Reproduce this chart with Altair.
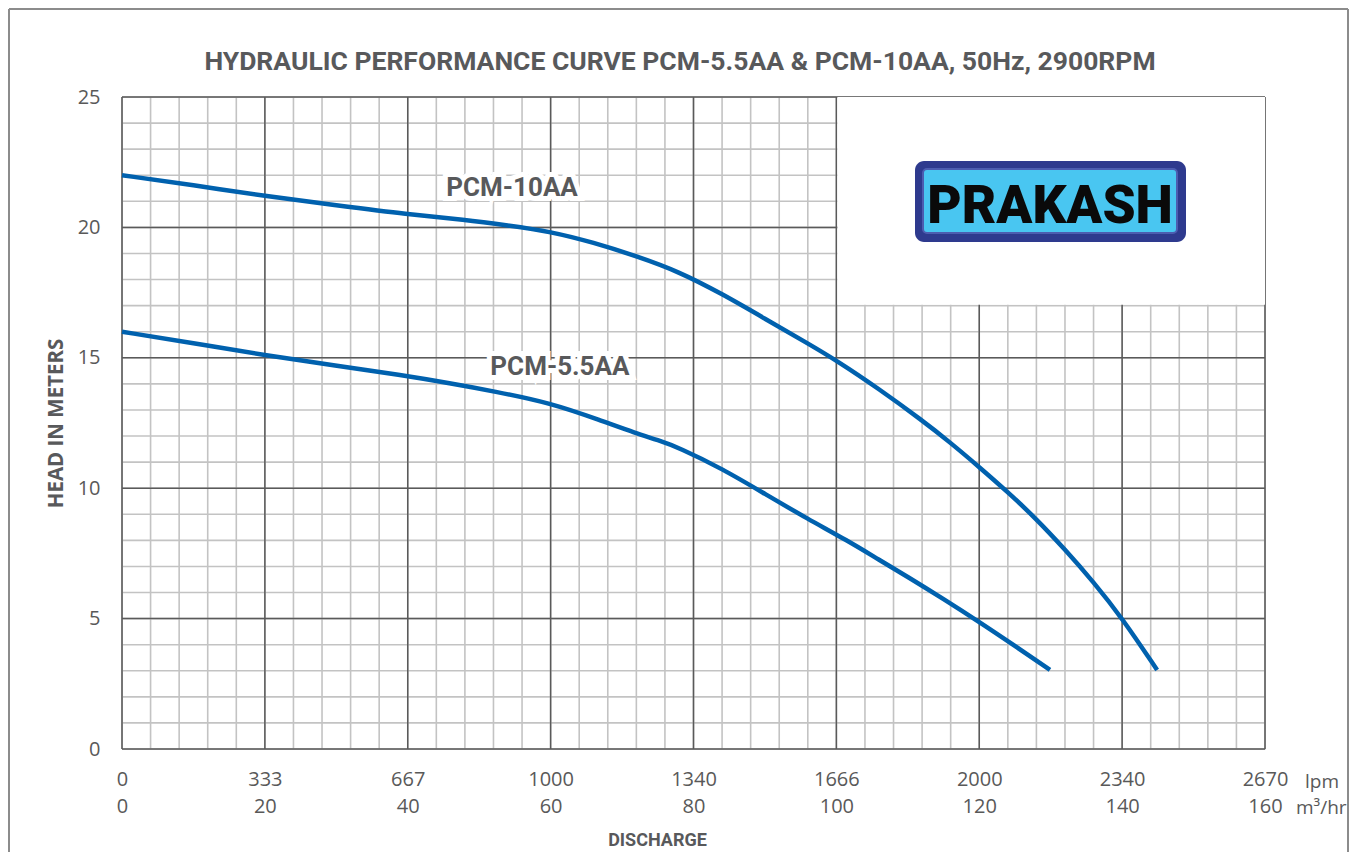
import altair as alt
import pandas as pd

# ---- data ----
q_10aa = [0, 10, 20, 30, 40, 48, 54, 60, 66, 72, 78, 84, 90, 96, 100, 106, 112, 116, 120, 124, 128, 132, 136, 140, 144.9]
h_10aa = [22.0, 21.62, 21.2, 20.85, 20.5, 20.3, 20.08, 19.84, 19.42, 18.9, 18.3, 17.45, 16.5, 15.55, 14.9, 13.8,
          12.6, 11.74, 10.81, 9.85, 8.82, 7.65, 6.4, 5.02, 3.03]
q_55aa = [0, 10, 20, 30, 39, 46, 52, 60, 67, 72, 75, 78, 84, 90, 96, 101.5, 106, 110, 115, 120, 125, 129.9]
h_55aa = [16.0, 15.56, 15.1, 14.7, 14.34, 14.02, 13.72, 13.27, 12.6, 12.1, 11.85, 11.55, 10.75, 9.78, 8.82, 8.0, 7.25,
          6.6, 5.75, 4.87, 3.95, 3.03]

models = ["PCM-10AA", "PCM-5.5AA"]
label_q = [54.6, 61.3]
label_h = [21.5, 14.65]

m3_ticks = [0, 20, 40, 60, 80, 100, 120, 140, 160]
lpm_ticks = ["0", "333", "667", "1000", "1340", "1666", "2000", "2340", "2670"]
head_ticks = [0, 5, 10, 15, 20, 25]

x_minor = list(range(0, 161, 4))
y_minor = list(range(0, 26, 1))
x_major = m3_ticks
y_major = head_ticks

TITLE = "HYDRAULIC PERFORMANCE CURVE PCM-5.5AA & PCM-10AA, 50Hz, 2900RPM"

# ---- tables ----
curves = pd.concat([
    pd.DataFrame({"q": q_10aa, "h": h_10aa, "model": models[0]}),
    pd.DataFrame({"q": q_55aa, "h": h_55aa, "model": models[1]}),
])
labels = pd.DataFrame({"q": label_q, "h": label_h, "model": models})

COND = "Roboto"
GRAY_TXT = "#58595B"

lpm_arr = "[" + ",".join("'%s'" % s for s in lpm_ticks) + "]"
xaxis = alt.Axis(
    values=m3_ticks, grid=False, ticks=False, domain=False,
    labelExpr=f"[{lpm_arr}[round(datum.value/20)], datum.label]",
    labelFont="Open Sans", labelFontSize=20, labelColor="#595959",
    labelLineHeight=27, labelPadding=20, labelFlush=False, labelOverlap=False,
    title="DISCHARGE", titleFont=COND, titleFontWeight="bold", titleFontSize=18,
    titleColor=GRAY_TXT, titleX=535, titleY=91, titleBaseline="middle",
)
yaxis = alt.Axis(
    values=head_ticks, grid=False, ticks=False, domain=False,
    labelFont="Open Sans", labelFontSize=20, labelColor="#595959", labelPadding=22,
    labelBaseline="middle",
    title="HEAD IN METERS", titleFont="Open Sans", titleFontWeight="bold", titleFontSize=20.5,
    titleColor=GRAY_TXT, titlePadding=11,
)
xs = alt.Scale(domain=[0, 160], nice=False, zero=True)
ys = alt.Scale(domain=[0, 25], nice=False, zero=True)


def X(f, **kw):
    return alt.X(f, type="quantitative", scale=xs, axis=xaxis, **kw)


def Y(f, **kw):
    return alt.Y(f, type="quantitative", scale=ys, axis=yaxis, **kw)


minor_x = alt.Chart(pd.DataFrame({"v": x_minor})).mark_rule(color="#C3C3C3", strokeWidth=1.6).encode(x=X("v"))
minor_y = alt.Chart(pd.DataFrame({"v": y_minor})).mark_rule(color="#C3C3C3", strokeWidth=1.6).encode(y=Y("v"))
major_x = alt.Chart(pd.DataFrame({"v": x_major})).mark_rule(color="#5A5A5A", strokeWidth=1.5).encode(x=X("v"))
major_y = alt.Chart(pd.DataFrame({"v": y_major})).mark_rule(color="#5A5A5A", strokeWidth=1.5).encode(y=Y("v"))

white_box = alt.Chart(pd.DataFrame({"x1": [100], "x2": [160], "y1": [25], "y2": [17]})).mark_rect(
    color="white", xOffset=1, y2Offset=-1
).encode(x=X("x1"), x2="x2", y=Y("y1"), y2="y2")

lines = alt.Chart(curves).mark_line(color="#0061AE", strokeWidth=4.5, interpolate="basis").encode(
    x=X("q"), y=Y("h"), detail="model:N"
)

halo = alt.Chart(labels).mark_text(
    font=COND, fontWeight="bold", fontSize=26, stroke="white", strokeWidth=10, fill="white",
    baseline="middle", align="center", strokeJoin="miter"
).encode(x=X("q"), y=Y("h"), text="model:N")
label_txt = alt.Chart(labels).mark_text(
    font=COND, fontWeight="bold", fontSize=26, color=GRAY_TXT, baseline="middle", align="center"
).encode(x=X("q"), y=Y("h"), text="model:N")

# logo
logo_outer = alt.Chart(pd.DataFrame({"a": [0]})).mark_rect(color="#2E3A8E", cornerRadius=9).encode(
    x=alt.value(793), x2=alt.value(1064), y=alt.value(64), y2=alt.value(145))
logo_inner = alt.Chart(pd.DataFrame({"a": [0]})).mark_rect(
    fill="#49C6F1", stroke="#4C5DB0", strokeWidth=2, cornerRadius=4).encode(
    x=alt.value(801), x2=alt.value(1055), y=alt.value(72), y2=alt.value(136))
logo_text = alt.Chart(pd.DataFrame({"t": ["PRAKASH"]})).mark_text(
    font=COND, fontWeight=900, fontSize=53, color="#0A0A0A", align="center", baseline="alphabetic"
).encode(x=alt.value(928), y=alt.value(126), text="t:N")

title_txt = alt.Chart(pd.DataFrame({"t": [TITLE]})).mark_text(
    font=COND, fontWeight="bold", fontSize=26.5, color=GRAY_TXT, align="center", baseline="alphabetic"
).encode(x=alt.value(558), y=alt.value(-27), text="t:N")

units = alt.Chart(pd.DataFrame({"t": ["lpm", "m³/hr"], "xp": [1183, 1174], "yp": [685, 711]})).mark_text(
    font="Open Sans", fontSize=19, color="#595959", align="left", baseline="middle"
).encode(x=alt.X("xp:Q", scale=None), y=alt.Y("yp:Q", scale=None), text="t:N")

frame_color = "#8C8C8C"
frame_l = alt.Chart(pd.DataFrame({"a": [0]})).mark_rule(color=frame_color, strokeWidth=2).encode(
    x=alt.value(-113), y=alt.value(-88), y2=alt.value(760))
frame_r = alt.Chart(pd.DataFrame({"a": [0]})).mark_rule(color=frame_color, strokeWidth=2).encode(
    x=alt.value(1226), y=alt.value(-88), y2=alt.value(760))
frame_t = alt.Chart(pd.DataFrame({"a": [0]})).mark_rule(color=frame_color, strokeWidth=2).encode(
    x=alt.value(-113), x2=alt.value(1226), y=alt.value(-88))

chart = alt.layer(
    minor_x, minor_y, major_x, major_y, white_box, lines, halo, label_txt,
    logo_outer, logo_inner, logo_text, title_txt, units, frame_l, frame_r, frame_t
).properties(
    width=1143, height=652,
    autosize=alt.AutoSizeParams(type="none"),
    padding={"left": 114, "top": 89, "right": 85, "bottom": 103},
).configure_view(
    stroke="#595959", strokeWidth=2
).configure(background="white")

chart.save("out.html", embed_options={"renderer": "svg", "actions": False})
